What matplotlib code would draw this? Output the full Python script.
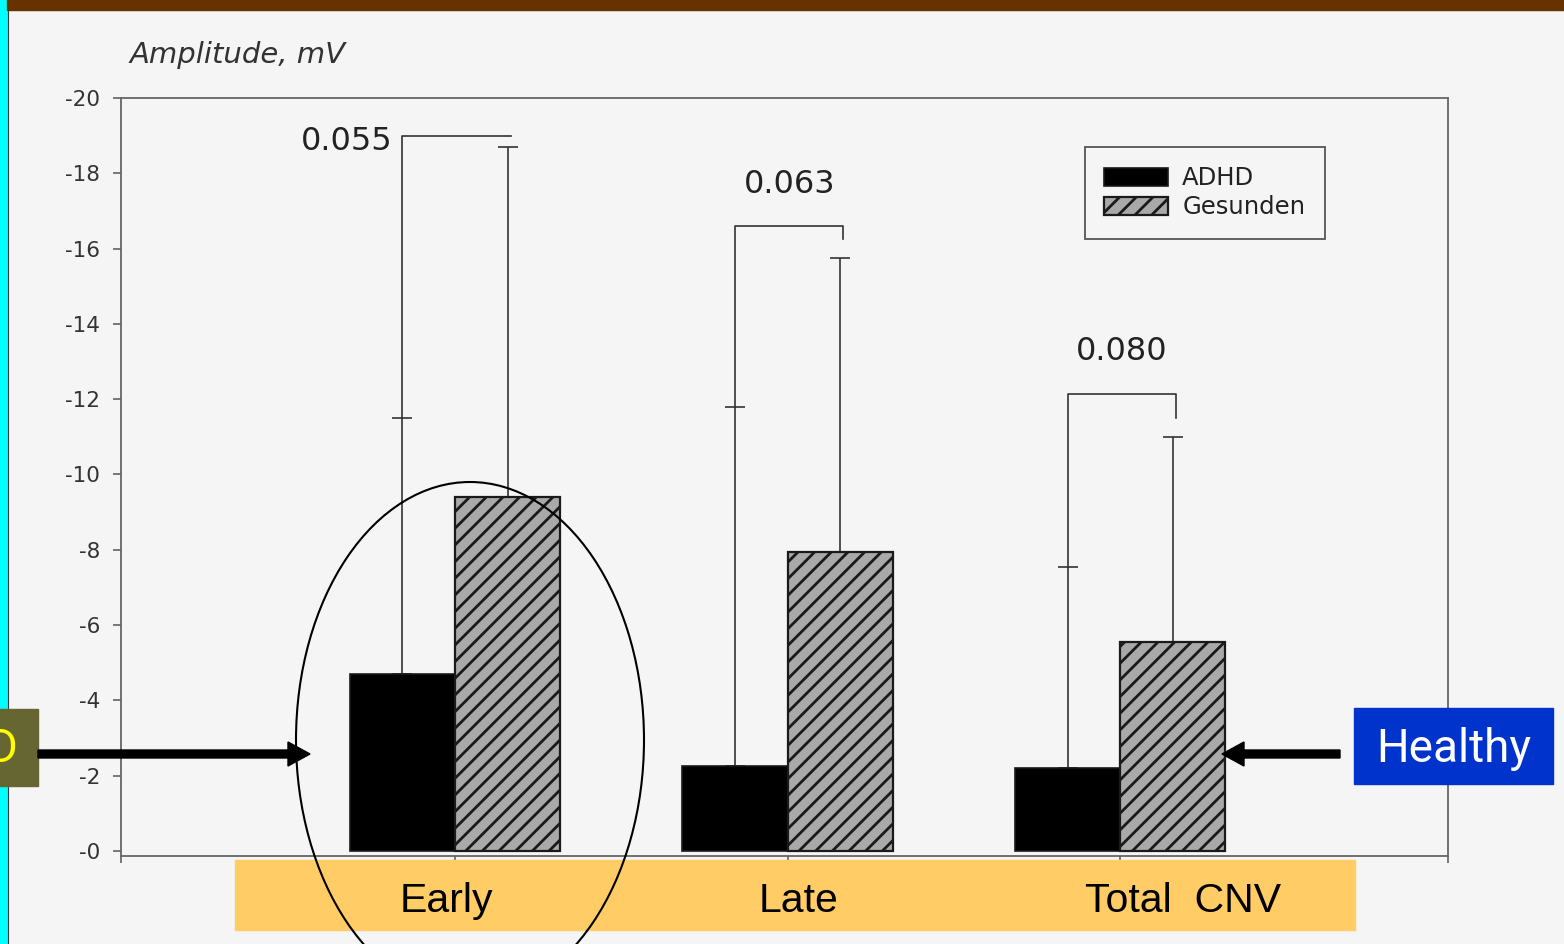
import numpy as np
import matplotlib
matplotlib.use("Agg")
import matplotlib.pyplot as plt
import matplotlib.transforms as mtransforms
from matplotlib.patches import Rectangle, Ellipse, FancyArrow
from matplotlib.ticker import FixedLocator, FixedFormatter

# CNV-Amplituden (mV), negative Werte
gruppen = ["Early", "Late", "Total  CNV"]
adhd = [-4.7, -2.25, -2.2]
gesunden = [-9.4, -7.95, -5.55]
adhd_sd = [6.8, 9.55, 5.35]
gesunden_sd = [9.3, 7.8, 5.45]
p_werte = ["0.055", "0.063", "0.080"]
klammer_oben = [-19.0, -16.6, -12.15]
klammer_rechts = [-19.0, -16.25, -11.5]
y_ticks = [0, -2, -4, -6, -8, -10, -12, -14, -16, -18, -20]
y_labels = ["-0", "-2", "-4", "-6", "-8", "-10", "-12", "-14", "-16", "-18", "-20"]
legende = ["ADHD", "Gesunden"]

W, H = 1564, 944
BG = "#f5f5f5"
plt.rcParams["font.family"] = ["Liberation Sans", "DejaVu Sans"]
plt.rcParams["hatch.linewidth"] = 2.0
GRAFIK = "DejaVu Sans"  # Schrift der eingescannten Grafik

fig = plt.figure(figsize=(W / 100, H / 100), dpi=100, facecolor=BG)
ax = fig.add_axes([121 / W, 1 - 856 / H, (1448 - 121) / W, (856 - 98) / H])
ax.set_facecolor("none")

x = np.arange(len(gruppen))
w = 0.316

# Fehlerbalken nur nach oben (negativere Werte)
null = np.zeros(len(x))
ax.errorbar(x - w / 2, adhd, yerr=[adhd_sd, null], fmt="none", ecolor="#333333",
            elinewidth=1.2, capsize=7, capthick=1.2, zorder=1)
ax.errorbar(x + w / 2, gesunden, yerr=[gesunden_sd, null], fmt="none", ecolor="#333333",
            elinewidth=1.2, capsize=7, capthick=1.2, zorder=1)

b1 = ax.bar(x - w / 2, adhd, w, color="black", edgecolor="#1a1a1a", linewidth=1.2, zorder=2)
b2 = ax.bar(x + w / 2, gesunden, w, color="#a9a9a9", edgecolor="#1a1a1a", linewidth=1.6,
            hatch="//", zorder=2)

# Signifikanz-Klammern
for i in range(len(x)):
    xl = x[i] - w / 2
    xr = x[i] + w / 2 + 0.01
    ax.plot([xl, xl, xr, xr],
            [adhd[i] - adhd_sd[i], klammer_oben[i], klammer_oben[i], klammer_rechts[i]],
            color="#333333", lw=1.2, zorder=1)
    if i == 0:
        ax.annotate(p_werte[i], (xl, klammer_oben[i]), xytext=(-7, -4), textcoords="offset points",
                    ha="right", va="center", fontsize=23, color="#222222", family=GRAFIK)
    else:
        ax.annotate(p_werte[i], ((xl + xr) / 2, klammer_oben[i]), xytext=(0, 24),
                    textcoords="offset points", ha="center", va="baseline",
                    fontsize=23, color="#222222", family=GRAFIK)

ax.set_xlim(-1.0045, 2.986)
ax.set_ylim(0.133, -20)
ax.yaxis.set_major_locator(FixedLocator(y_ticks))
ax.yaxis.set_major_formatter(FixedFormatter(y_labels))
ax.set_xticks([-1.0045, 0, 1, 2, 2.986])
ax.set_xticklabels([])
ax.tick_params(axis="y", length=6, width=1.1, color="#555555", pad=9,
               labelsize=15.5, labelcolor="#333333")
for t in ax.get_yticklabels():
    t.set_family(GRAFIK)
ax.tick_params(axis="x", length=5, width=1.1, color="#555555")
for s in ax.spines.values():
    s.set_color("#666666")
    s.set_linewidth(1.3)

leg = ax.legend([b1, b2], legende, loc="upper left",
                bbox_to_anchor=(1085 / W, 1 - 147 / H), bbox_transform=fig.transFigure,
                borderaxespad=0, prop={"family": GRAFIK, "size": 17.5}, fancybox=False,
                edgecolor="#555555", facecolor=BG, framealpha=1, handlelength=2.6,
                handleheight=0.75, borderpad=0.8, labelspacing=0.2, handletextpad=0.6)
leg.get_frame().set_linewidth(1.3)
for t in leg.get_texts():
    t.set_color("#222222")

fig.text(130 / W, 1 - 63 / H, "Amplitude, mV", fontsize=21, style="italic",
         color="#333333", va="baseline", ha="left", family=GRAFIK)

# Folien-Elemente in Pixelkoordinaten
ov = fig.add_axes([0, 0, 1, 1], zorder=5)
ov.set_xlim(0, W)
ov.set_ylim(H, 0)
ov.axis("off")
ov.patch.set_alpha(0)

ov.add_patch(Rectangle((0, 0), 7, H, color="#00ffff", zorder=1))
ov.plot([7.5, 7.5], [10, H], color="#3a3a3a", lw=0.8, zorder=1)
ov.add_patch(Rectangle((7, 0), W - 7, 10, color="#663300", zorder=1))

ov.add_patch(Rectangle((235, 860), 1120, 70, color="#ffcc66", zorder=1))
trans_lbl = mtransforms.blended_transform_factory(ax.transData, ov.transData)
lbl_x = [-0.025, 1.033, 2.19]
for lx, g in zip(lbl_x, gruppen):
    ov.text(lx, 912, g, transform=trans_lbl, ha="center", va="baseline",
            fontsize=29.5, color="black", zorder=3)

ov.add_patch(Rectangle((0, 709), 38, 77, color="#666633", zorder=2))
ov.text(18, 749, "ADHD", ha="right", va="center", fontsize=33, color="#ffff00",
        family="Roboto", zorder=3)
ov.add_patch(Rectangle((1354, 708), 199, 76, color="#0033cc", zorder=2))
ov.text(1454, 749, "Healthy", ha="center", va="center", fontsize=33, color="white",
        family="Roboto", zorder=3)

ov.add_patch(FancyArrow(38, 754, 272, 0, width=8, head_width=24, head_length=22,
                        length_includes_head=True, color="black", zorder=4))
ov.add_patch(FancyArrow(1340, 754, -118, 0, width=8, head_width=24, head_length=22,
                        length_includes_head=True, color="black", zorder=4))

ov.add_patch(Ellipse((470, 740), 348, 516, fill=False, edgecolor="black", lw=1.5, zorder=4))

fig.savefig("out.png", dpi=100, facecolor=BG)
